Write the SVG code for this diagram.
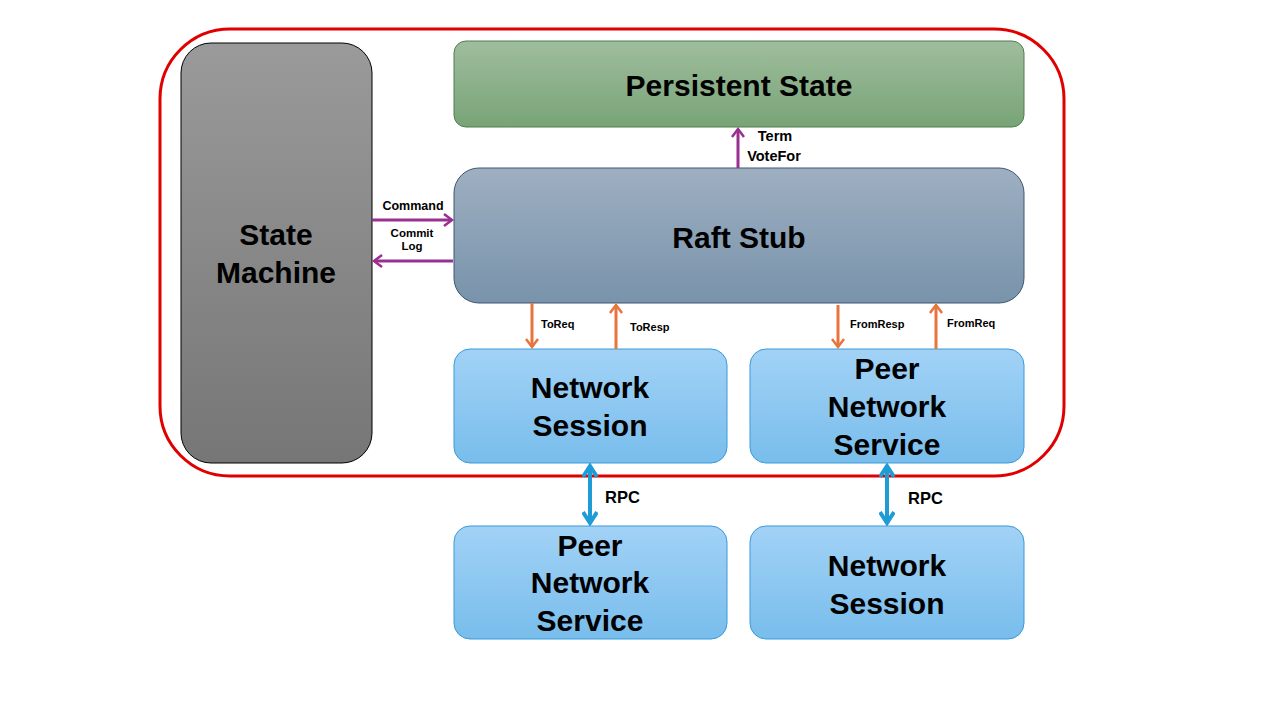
<svg xmlns="http://www.w3.org/2000/svg" width="1280" height="720" viewBox="0 0 1280 720">
<defs>
<linearGradient id="gGray" x1="0" y1="0" x2="0" y2="1"><stop offset="0" stop-color="#9a9a9a"/><stop offset="1" stop-color="#767676"/></linearGradient>
<linearGradient id="gGreen" x1="0" y1="0" x2="0" y2="1"><stop offset="0" stop-color="#9fbd9d"/><stop offset="1" stop-color="#78a477"/></linearGradient>
<linearGradient id="gSlate" x1="0" y1="0" x2="0" y2="1"><stop offset="0" stop-color="#9eafc1"/><stop offset="1" stop-color="#7893ab"/></linearGradient>
<linearGradient id="gBlue" x1="0" y1="0" x2="0" y2="1"><stop offset="0" stop-color="#a2d2f6"/><stop offset="1" stop-color="#78bdec"/></linearGradient>
<marker id="mPurple" markerWidth="12" markerHeight="14" refX="9" refY="7" orient="auto" markerUnits="userSpaceOnUse"><path d="M1,1 L9,7 L1,13" fill="none" stroke="#992f90" stroke-width="2.5"/></marker>
<marker id="mOrange" markerWidth="12" markerHeight="14" refX="9" refY="7" orient="auto" markerUnits="userSpaceOnUse"><path d="M1,1 L9,7 L1,13" fill="none" stroke="#e8743b" stroke-width="2.5"/></marker>
<marker id="mBlue" markerWidth="16" markerHeight="16" refX="13" refY="8" orient="auto" markerUnits="userSpaceOnUse"><path d="M2,1 L13,8 L2,15" fill="none" stroke="#1f9bd6" stroke-width="4"/></marker>
<marker id="mBlueS" markerWidth="16" markerHeight="16" refX="3" refY="8" orient="auto" markerUnits="userSpaceOnUse"><path d="M14,1 L3,8 L14,15" fill="none" stroke="#1f9bd6" stroke-width="4"/></marker>
</defs>
<style>
.big{font-family:"Liberation Sans",Arial,sans-serif;font-weight:700;font-size:30px;fill:#000;text-anchor:middle}
.lbl{font-family:"Liberation Sans",Arial,sans-serif;font-weight:700;fill:#000}
.pu{stroke:#992f90;stroke-width:3;fill:none}
.or{stroke:#e8743b;stroke-width:3;fill:none}
.bl{stroke:#1f9bd6;stroke-width:4;fill:none}
.blue{fill:url(#gBlue);stroke:#3a9ad8;stroke-width:1}
</style>
<rect x="0" y="0" width="1280" height="720" fill="#fff"/>
<rect id="boundary" x="160" y="29" width="904" height="447" rx="70" fill="none" stroke="#e00000" stroke-width="3"/>
<g id="state-machine">
<rect x="181" y="43" width="191" height="420" rx="30" fill="url(#gGray)" stroke="#000" stroke-width="1"/>
<text class="big" x="276" y="245">State</text>
<text class="big" x="276" y="283">Machine</text>
</g>
<g id="persistent-state">
<rect x="454" y="41" width="570" height="86" rx="12" fill="url(#gGreen)" stroke="#4f7f4d" stroke-width="1"/>
<text class="big" x="739" y="96">Persistent State</text>
</g>
<g id="raft-stub">
<rect x="454" y="168" width="570" height="135" rx="25" fill="url(#gSlate)" stroke="#3f5670" stroke-width="1"/>
<text class="big" x="739" y="248">Raft Stub</text>
</g>
<g id="network-session-1">
<rect class="blue" x="454" y="349" width="273" height="114" rx="16"/>
<text class="big" x="590" y="398">Network</text>
<text class="big" x="590" y="436">Session</text>
</g>
<g id="peer-network-service-1">
<rect class="blue" x="750" y="349" width="274" height="114" rx="16"/>
<text class="big" x="887" y="379">Peer</text>
<text class="big" x="887" y="417">Network</text>
<text class="big" x="887" y="455">Service</text>
</g>
<g id="peer-network-service-2">
<rect class="blue" x="454" y="526" width="273" height="113" rx="16"/>
<text class="big" x="590" y="556">Peer</text>
<text class="big" x="590" y="593">Network</text>
<text class="big" x="590" y="631">Service</text>
</g>
<g id="network-session-2">
<rect class="blue" x="750" y="526" width="274" height="113" rx="16"/>
<text class="big" x="887" y="576">Network</text>
<text class="big" x="887" y="614">Session</text>
</g>
<g id="connectors">
<line class="pu" x1="372" y1="220" x2="452" y2="220" marker-end="url(#mPurple)"/>
<line class="pu" x1="453" y1="261" x2="374" y2="261" marker-end="url(#mPurple)"/>
<line class="pu" x1="738" y1="168" x2="738" y2="129" marker-end="url(#mPurple)"/>
<line class="or" x1="532" y1="303" x2="532" y2="347" marker-end="url(#mOrange)"/>
<line class="or" x1="616" y1="349" x2="616" y2="305" marker-end="url(#mOrange)"/>
<line class="or" x1="838" y1="305" x2="838" y2="347" marker-end="url(#mOrange)"/>
<line class="or" x1="936" y1="349" x2="936" y2="305" marker-end="url(#mOrange)"/>
<line class="bl" x1="590" y1="466" x2="590" y2="523" marker-start="url(#mBlueS)" marker-end="url(#mBlue)"/>
<line class="bl" x1="887" y1="466" x2="887" y2="523" marker-start="url(#mBlueS)" marker-end="url(#mBlue)"/>
<text class="lbl" x="413" y="210" font-size="12.5" text-anchor="middle">Command</text>
<text class="lbl" x="412" y="237" font-size="11.5" text-anchor="middle">Commit</text>
<text class="lbl" x="412" y="250" font-size="11.5" text-anchor="middle">Log</text>
<text class="lbl" x="775" y="141" font-size="14.5" text-anchor="middle">Term</text>
<text class="lbl" x="774" y="161" font-size="14.5" text-anchor="middle">VoteFor</text>
<text class="lbl" x="541" y="328" font-size="11">ToReq</text>
<text class="lbl" x="630" y="331" font-size="11">ToResp</text>
<text class="lbl" x="850" y="328" font-size="11">FromResp</text>
<text class="lbl" x="947" y="327" font-size="11">FromReq</text>
<text class="lbl" x="605" y="503" font-size="16.5">RPC</text>
<text class="lbl" x="908" y="504" font-size="16.5">RPC</text>
</g>
</svg>
